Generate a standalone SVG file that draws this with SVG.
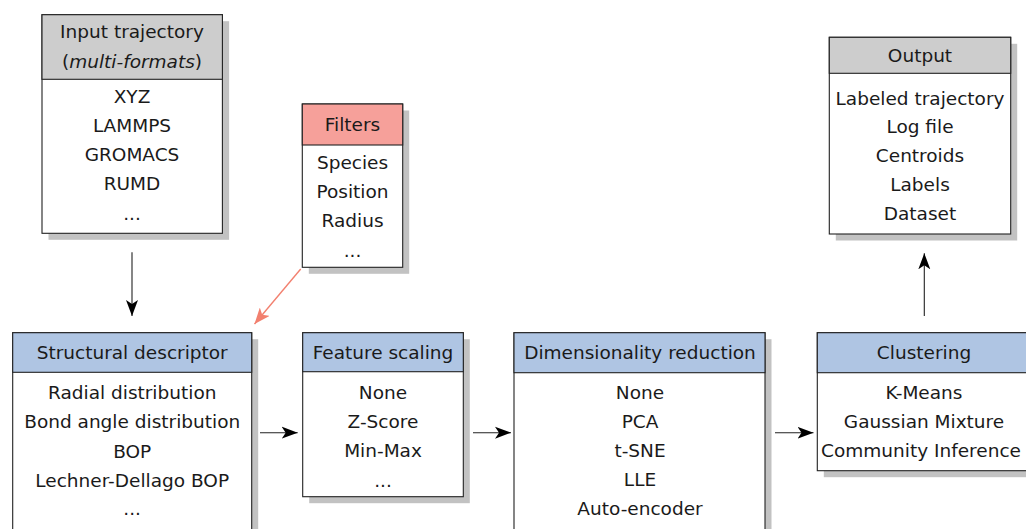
<svg xmlns="http://www.w3.org/2000/svg" width="1026" height="529" viewBox="0 0 1026 529">
<style>
  .shadow { fill: #c2c2c2; }
  .box { fill: #ffffff; stroke: #222; stroke-width: 1.1; }
  .hgray { fill: #cdcdcd; stroke: #222; stroke-width: 1.1; }
  .hblue { fill: #afc5e3; stroke: #222; stroke-width: 1.1; }
  .hred { fill: #f6a09a; stroke: #222; stroke-width: 1.1; }
  text { font-family: "DejaVu Sans", "Liberation Sans", sans-serif; font-size: 18.5px; fill: #1a1a1a; text-anchor: middle; }
  .conn { fill: none; stroke: #222; stroke-width: 1.1; }
  .connred { fill: none; stroke: #f2806f; stroke-width: 1.4; }
</style>
<defs>
  <marker id="stealth" markerUnits="userSpaceOnUse" viewBox="-16 -6.5 16 13" refX="0" refY="0" markerWidth="16" markerHeight="13" orient="auto">
    <path d="M0,0 L-16,-6 L-12,0 L-16,6 Z" fill="#000"/>
  </marker>
  <marker id="stealthred" markerUnits="userSpaceOnUse" viewBox="-16 -6.5 16 13" refX="0" refY="0" markerWidth="16" markerHeight="13" orient="auto">
    <path d="M0,0 L-16,-6.5 L-12,0 L-16,6.5 Z" fill="#f2806f"/>
  </marker>
</defs>

<g id="input">
  <rect class="shadow" x="48.5" y="21.2" width="180.6" height="218.6"/>
  <rect class="box" x="42" y="14.7" width="180.4" height="218.6"/>
  <rect class="hgray" x="42" y="14.7" width="180.4" height="64.6"/>
  <text x="132" y="38">Input trajectory</text>
  <text x="132" y="68">(<tspan font-style="italic">multi-formats</tspan>)</text>
  <text x="132" y="103">XYZ</text>
  <text x="132" y="132">LAMMPS</text>
  <text x="132" y="161">GROMACS</text>
  <text x="132" y="190">RUMD</text>
  <text x="132" y="220">...</text>
</g>

<g id="filters">
  <rect class="shadow" x="308.8" y="110.5" width="100.4" height="163.3"/>
  <rect class="box" x="302.3" y="104" width="100.4" height="163.3"/>
  <rect class="hred" x="302.3" y="104" width="100.4" height="41"/>
  <text x="352.5" y="131">Filters</text>
  <text x="352.5" y="169">Species</text>
  <text x="352.5" y="198">Position</text>
  <text x="352.5" y="226.5">Radius</text>
  <text x="352.5" y="256.5">...</text>
</g>

<g id="output">
  <rect class="shadow" x="835.8" y="43.8" width="181.4" height="196.7"/>
  <rect class="box" x="829.3" y="37.3" width="181.4" height="196.7"/>
  <rect class="hgray" x="829.3" y="37.3" width="181.4" height="36"/>
  <text x="920" y="62">Output</text>
  <text x="920" y="104.5">Labeled trajectory</text>
  <text x="920" y="133">Log file</text>
  <text x="920" y="162">Centroids</text>
  <text x="920" y="191">Labels</text>
  <text x="920" y="220">Dataset</text>
</g>

<g id="structural">
  <rect class="shadow" x="19.2" y="339.2" width="239" height="210"/>
  <rect class="box" x="12.7" y="332.7" width="239" height="210"/>
  <rect class="hblue" x="12.7" y="332.7" width="239" height="39.6"/>
  <text x="132.2" y="358.5">Structural descriptor</text>
  <text x="132.2" y="399">Radial distribution</text>
  <text x="132.2" y="428">Bond angle distribution</text>
  <text x="132.2" y="457.5">BOP</text>
  <text x="132.2" y="486.5">Lechner-Dellago BOP</text>
  <text x="132.2" y="515">...</text>
</g>

<g id="scaling">
  <rect class="shadow" x="309.2" y="339.2" width="160.6" height="164"/>
  <rect class="box" x="302.7" y="332.7" width="160.6" height="164"/>
  <rect class="hblue" x="302.7" y="332.7" width="160.6" height="39"/>
  <text x="383" y="358.5">Feature scaling</text>
  <text x="383" y="399">None</text>
  <text x="383" y="427.5">Z-Score</text>
  <text x="383" y="456.5">Min-Max</text>
  <text x="383" y="486.5">...</text>
</g>

<g id="reduction">
  <rect class="shadow" x="520.5" y="339.2" width="251" height="210"/>
  <rect class="box" x="514" y="332.7" width="251" height="210"/>
  <rect class="hblue" x="514" y="332.7" width="251" height="40"/>
  <text x="640" y="358.5">Dimensionality reduction</text>
  <text x="640" y="399">None</text>
  <text x="640" y="428">PCA</text>
  <text x="640" y="457">t-SNE</text>
  <text x="640" y="486">LLE</text>
  <text x="640" y="515">Auto-encoder</text>
</g>

<g id="clustering">
  <rect class="shadow" x="823.8" y="339.2" width="214" height="138"/>
  <rect class="box" x="817.3" y="332.7" width="214" height="138"/>
  <rect class="hblue" x="817.3" y="332.7" width="214" height="40"/>
  <text x="924" y="358.5">Clustering</text>
  <text x="924" y="399">K-Means</text>
  <text x="924" y="428">Gaussian Mixture</text>
  <text x="921" y="457">Community Inference</text>
</g>

<g id="connectors">
  <path class="conn" d="M132,252.3 L132,316" marker-end="url(#stealth)"/>
  <path class="connred" d="M300.7,269 L254.5,324" marker-end="url(#stealthred)"/>
  <path class="conn" d="M260,432.7 L297.7,432.7" marker-end="url(#stealth)"/>
  <path class="conn" d="M473,432.7 L511,432.7" marker-end="url(#stealth)"/>
  <path class="conn" d="M775,432.7 L813.5,432.7" marker-end="url(#stealth)"/>
  <path class="conn" d="M924.3,316 L924.3,253.3" marker-end="url(#stealth)"/>
</g>
</svg>
